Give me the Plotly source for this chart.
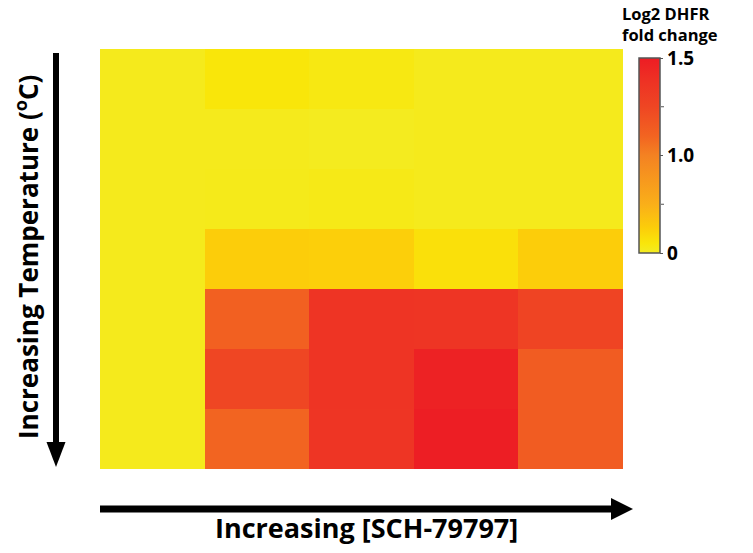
import numpy as np
import plotly.graph_objects as go

W, H = 753, 553
# plot area in pixels
L, R, T, B = 100, 623, 49, 469

# Log2 DHFR fold change: rows = increasing temperature (top to bottom),
# columns = increasing [SCH-79797] (left to right)
row1 = [0.03, 0.10, 0.07, 0.03, 0.03]
row2 = [0.03, 0.03, 0.02, 0.03, 0.03]
row3 = [0.03, 0.04, 0.05, 0.03, 0.03]
row4 = [0.03, 0.26, 0.25, 0.14, 0.26]
row5 = [0.03, 1.12, 1.37, 1.36, 1.26]
row6 = [0.03, 1.25, 1.37, 1.47, 1.14]
row7 = [0.03, 1.10, 1.36, 1.49, 1.14]

label_ticks = [0.0, 1.0, 1.5]
label_texts = ["0", "1.0", "1.5"]
minor_ticks = [0.5, 1.25]

values = np.array([row1, row2, row3, row4, row5, row6, row7])


# piecewise-linear colour coordinate: 0 -> 0, 1.0 -> 0.5, 1.5 -> 1
def to_scale(v):
    return np.interp(v, [0.0, 1.0, 1.5], [0.0, 0.5, 1.0])


colorscale = [
    [0.00, "rgb(243,236,36)"],
    [0.05, "rgb(249,230,10)"],
    [0.13, "rgb(252,205,10)"],
    [0.25, "rgb(250,175,25)"],
    [0.50, "rgb(244,130,34)"],
    [0.60, "rgb(242,100,33)"],
    [0.75, "rgb(239,70,35)"],
    [0.88, "rgb(238,50,36)"],
    [1.00, "rgb(237,28,36)"],
]


def px(x):
    return (x - L) / (R - L)


def py(y):
    return (B - y) / (B - T)


# colour bar geometry (pixels)
CB_X, CB_TOP, CB_LEN, CB_THICK = 639, 58, 195, 21

fig = go.Figure(
    go.Heatmap(
        z=to_scale(values),
        customdata=values,
        hovertemplate="%{customdata:.2f}<extra></extra>",
        zmin=0, zmax=1,
        colorscale=colorscale,
        colorbar=dict(
            x=px(CB_X), xanchor="left", xpad=0,
            y=py(CB_TOP), yanchor="top", ypad=0,
            len=CB_LEN, lenmode="pixels", thickness=CB_THICK,
            outlinewidth=1.5, outlinecolor="#555555",
            tickmode="array",
            tickvals=list(to_scale(np.array(label_ticks))),
            ticktext=label_texts,
            ticks="outside", ticklen=3, tickcolor="#555555", tickwidth=1,
            tickfont=dict(family="Open Sans", size=19, color="black", weight="bold"),
        ),
    )
)

shapes = []
# unlabelled colour-bar ticks
for v in minor_ticks:
    yy = CB_TOP + CB_LEN * (1 - float(to_scale(v)))
    shapes.append(dict(type="line", xref="paper", yref="paper",
                       x0=px(CB_X + CB_THICK + 1), x1=px(CB_X + CB_THICK + 4),
                       y0=py(yy), y1=py(yy),
                       line=dict(color="#555555", width=1)))
# vertical arrow (temperature)
shapes.append(dict(type="line", xref="paper", yref="paper",
                   x0=px(56), x1=px(56), y0=py(53), y1=py(445),
                   line=dict(color="black", width=6)))
shapes.append(dict(type="path", xref="paper", yref="paper",
                   path=f"M {px(46.5)},{py(442)} L {px(65.5)},{py(442)} L {px(56)},{py(467)} Z",
                   fillcolor="black", line=dict(width=0)))
# horizontal arrow (concentration)
shapes.append(dict(type="line", xref="paper", yref="paper",
                   x0=px(100), x1=px(614), y0=py(509), y1=py(509),
                   line=dict(color="black", width=7)))
shapes.append(dict(type="path", xref="paper", yref="paper",
                   path=f"M {px(611)},{py(498)} L {px(611)},{py(520)} L {px(633)},{py(509)} Z",
                   fillcolor="black", line=dict(width=0)))

bold = dict(family="Open Sans", color="black", weight="bold")
annotations = [
    dict(text="Increasing Temperature (<sup>o</sup>C)", xref="paper", yref="paper",
         x=px(27), y=py(257), textangle=-90, showarrow=False,
         font=dict(size=26, **bold), xanchor="center", yanchor="middle"),
    dict(text="Increasing [SCH-79797]", xref="paper", yref="paper",
         x=px(366), y=py(527), showarrow=False,
         font=dict(size=27, **bold), xanchor="center", yanchor="middle"),
    dict(text="Log2 DHFR<br>fold change", xref="paper", yref="paper",
         x=px(621), y=py(1), showarrow=False, align="left", borderpad=0,
         font=dict(size=16.5, **bold), xanchor="left", yanchor="top"),
]

fig.update_layout(
    width=W, height=H,
    margin=dict(l=L, r=W - R, t=T, b=H - B),
    paper_bgcolor="white", plot_bgcolor="white",
    xaxis=dict(visible=False, range=[-0.5, 4.5]),
    yaxis=dict(visible=False, autorange="reversed"),
    shapes=shapes, annotations=annotations,
    showlegend=False,
)

fig.write_html("out.html")
